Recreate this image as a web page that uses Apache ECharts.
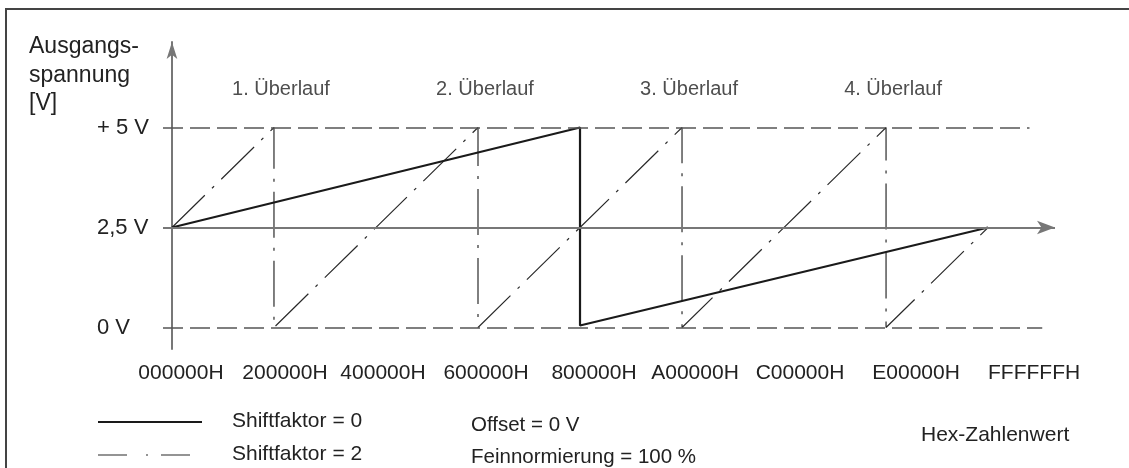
<!DOCTYPE html>
<html>
<head>
<meta charset="utf-8">
<script src="https://cdn.jsdelivr.net/npm/echarts@6/dist/echarts.min.js"></script>
<style>
  html, body { margin: 0; padding: 0; background: #fff; }
  #chart { width: 1129px; height: 468px; }
</style>
</head>
<body>
<div id="chart"></div>
<script>
// Output voltage over the hex input value, with and without shift factor

const xTicks = [0x000000, 0x200000, 0x400000, 0x600000, 0x800000, 0xA00000, 0xC00000, 0xE00000, 0xFFFFFF];
const xTickLabels = ['000000H', '200000H', '400000H', '600000H', '800000H', 'A00000H', 'C00000H', 'E00000H', 'FFFFFFH'];
const yTicks = [0, 2.5, 5];
const yTickLabels = ['0 V', '2,5 V', '+ 5 V'];

const seriesNames = ['Shiftfaktor = 0', 'Shiftfaktor = 2'];
// Shiftfaktor 0: a single overflow at 800000H
const shift0 = [[0x000000, 2.5], [0x800000, 5], [0x800000, 0.05], [0xFFFFFF, 2.5]];
// Shiftfaktor 2: four overflows
const shift2 = [
  [0x000000, 2.5], [0x200000, 5], [0x200000, 0],
  [0x600000, 5], [0x600000, 0],
  [0xA00000, 5], [0xA00000, 0],
  [0xE00000, 5], [0xE00000, 0],
  [0xFFFFFF, 2.5]
];

const overflowX = [0x200000, 0x600000, 0xA00000, 0xE00000];
const overflowLabels = ['1. Überlauf', '2. Überlauf', '3. Überlauf', '4. Überlauf'];
const overflowLevel = 5.96;

// limit lines at 0 V / 5 V and the horizontal axis at 2,5 V: [y, xStart, xEnd]
const limitLines = [[5, -0x2D000, 0x10D0000], [0, -0x2D000, 0x1110000]];
const hAxis = [2.5, -0x2D000, 0x1150000];

const notes = ['Offset = 0 V', 'Feinnormierung = 100 %'];
const xAxisTitle = 'Hex-Zahlenwert';
const yAxisTitle = ['Ausgangs-', 'spannung', '[V]'];

// ---- layout ----
const FONT = '"Liberation Sans", Arial, Helvetica, sans-serif';
const TEXT = '#222';
const AXIS = '#777';
const SOLID = { color: '#1a1a1a', width: 2.2 };
const DASHDOT = { color: '#2a2a2a', width: 1.2, dash: [46, 10, 3, 10] };
// horizontal nudge of each x tick label (px)
const xLabelShift = [9, 11, 7, 8, 14, 13, 16, 30, 46];

const rich = {};
xLabelShift.forEach((s, i) => {
  rich['s' + i] = { fontFamily: FONT, fontSize: 21, color: TEXT, padding: [0, 0, 0, 2 * s] };
});

const chart = echarts.init(document.getElementById('chart'), null, { renderer: 'canvas' });

const guideData = limitLines.map(([y, x0, x1]) => [
  { coord: [x0, y], symbol: 'none' },
  { coord: [x1, y], symbol: 'none', lineStyle: { color: '#555', width: 1.5, type: [20, 7] } }
]);
guideData.push([
  { coord: [hAxis[1], hAxis[0]], symbol: 'none' },
  { coord: [hAxis[2], hAxis[0]], symbol: 'arrow', symbolSize: [10, 18], lineStyle: { color: AXIS, width: 2, type: 'solid' } }
]);

// legend drawn as line samples + labels
const legendRows = [
  { y: 422, name: seriesNames[0], style: { stroke: SOLID.color, lineWidth: SOLID.width } },
  { y: 455, name: seriesNames[1], style: { stroke: DASHDOT.color, lineWidth: DASHDOT.width, lineDash: [29, 19, 2, 13] } }
];

chart.setOption({
  animation: false,
  backgroundColor: '#fff',
  textStyle: { fontFamily: FONT },
  grid: { left: 163, right: 74, top: 42, bottom: 119, containLabel: false },
  xAxis: {
    type: 'value',
    min: -0x2D000,
    max: 0x1150000,
    axisLine: { show: false },
    axisTick: { show: false },
    splitLine: { show: false },
    axisLabel: {
      customValues: xTicks,
      interval: 0,
      margin: 24,
      verticalAlign: 'middle',
      hideOverlap: false,
      formatter: (v) => {
        const i = xTicks.indexOf(v);
        return i < 0 ? '' : '{s' + i + '|' + xTickLabels[i] + '}';
      },
      rich: rich
    }
  },
  yAxis: {
    type: 'value',
    min: -0.5375,
    max: 7.1375,
    axisLine: {
      show: true,
      onZero: true,
      symbol: ['none', 'arrow'],
      symbolSize: [8, 17],
      lineStyle: { color: AXIS, width: 2 }
    },
    axisTick: { show: false },
    splitLine: { show: false },
    axisLabel: {
      customValues: yTicks,
      margin: 66,
      align: 'left',
      fontFamily: FONT,
      fontSize: 22,
      color: TEXT,
      formatter: (v) => {
        const i = yTicks.indexOf(v);
        return i < 0 ? '' : yTickLabels[i];
      }
    }
  },
  series: [
    {
      name: seriesNames[0],
      type: 'line',
      data: shift0,
      symbol: 'none',
      z: 4,
      lineStyle: { color: SOLID.color, width: SOLID.width },
      markLine: {
        silent: true,
        symbol: 'none',
        label: { show: false },
        data: guideData
      }
    },
    {
      name: seriesNames[1],
      type: 'line',
      data: shift2,
      symbol: 'none',
      z: 3,
      lineStyle: { color: DASHDOT.color, width: DASHDOT.width, type: DASHDOT.dash }
    },
    {
      type: 'scatter',
      data: overflowX.map(x => [x, overflowLevel]),
      symbolSize: 1,
      itemStyle: { color: 'rgba(0,0,0,0)' },
      silent: true,
      label: {
        show: true,
        position: 'inside',
        offset: [7, 0],
        fontFamily: FONT,
        fontSize: 20,
        color: TEXT,
        formatter: (p) => overflowLabels[p.dataIndex]
      }
    }
  ],
  graphic: [
    // frame
    { type: 'line', shape: { x1: 5, y1: 9, x2: 1129, y2: 9 }, style: { stroke: '#444', lineWidth: 2 } },
    { type: 'line', shape: { x1: 6, y1: 9, x2: 6, y2: 468 }, style: { stroke: '#444', lineWidth: 2 } },
    // y axis title
    ...yAxisTitle.map((t, i) => ({
      type: 'text', left: 29, top: [47, 76, 104][i] - 12,
      style: { text: t, fontFamily: FONT, fontSize: 23, fill: TEXT, lineHeight: 24 }
    })),
    // legend
    ...legendRows.map(r => ({
      type: 'line', shape: { x1: 98, y1: r.y, x2: 202, y2: r.y }, style: r.style
    })),
    ...legendRows.map(r => ({
      type: 'text', left: 232, top: r.y - 13,
      style: { text: r.name, fontFamily: FONT, fontSize: 21, fill: TEXT, lineHeight: 24 }
    })),
    // notes
    ...notes.map((t, i) => ({
      type: 'text', left: 471, top: [425, 457][i] - 12,
      style: { text: t, fontFamily: FONT, fontSize: 20.5, fill: TEXT, lineHeight: 24 }
    })),
    {
      type: 'text', left: 921, top: 435 - 12,
      style: { text: xAxisTitle, fontFamily: FONT, fontSize: 21, fill: TEXT, lineHeight: 24 }
    }
  ]
});
</script>
</body>
</html>
